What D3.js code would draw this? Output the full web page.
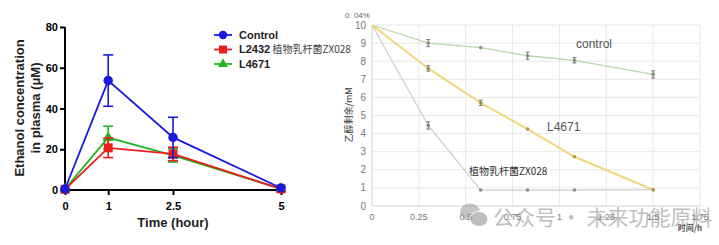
<!DOCTYPE html>
<html>
<head>
<meta charset="utf-8">
<script src="https://cdn.jsdelivr.net/npm/d3@7"></script>
<style>
  body { margin: 0; background: #fff; }
  svg { display: block; }
</style>
</head>
<body>
<svg id="chart" width="719" height="245"></svg>
<script>
// ---- left panel data (Ethanol in plasma) ----
let hours = [0, 1, 2.5, 5]
let controlMean = [0.5, 53.7, 25.8, 1]
let controlErr = [0, 12.6, 9.9, 0]
let l2432Mean = [0.3, 20.7, 17.7, 0.5]
let l2432Err = [0, 4.8, 3.3, 0]
let l4671Mean = [0.5, 25.7, 17, 0.5]
let l4671Err = [0, 5.6, 3.3, 0]
let leftYTicks = [0, 20, 40, 60, 80]
let leftLegend = ['Control', 'L2432 植物乳杆菌ZX028', 'L4671']

// ---- right panel data (ethanol remaining) ----
let times = [0, 0.3, 0.58, 0.83, 1.08, 1.5]
let ctrlRemain = [10, 9.0, 8.75, 8.3, 8.05, 7.27]
let ctrlRemainErr = [0, 0.2, 0, 0.2, 0.15, 0.2]
let l4671Remain = [10, 7.6, 5.7, 4.25, 2.72, 0.9]
let l4671RemainErr = [0, 0.15, 0.15, 0, 0, 0]
let zx028Remain = [10, 4.45, 0.88, 0.88, 0.88, 0.9]
let zx028RemainErr = [0, 0.2, 0, 0, 0, 0]
let rightXTicks = [0, 0.25, 0.5, 0.75, 1, 1.25, 1.5, 1.75]
let rightXLabels = ['0', '0.25', '0.5', '0.75', '1', '1.25', '1.5', '1.75']
let rightYTicks = [0, 1, 2, 3, 4, 5, 6, 7, 8, 9, 10]

let svg = d3.select('#chart')

// ================= LEFT PANEL =================
let left = svg.append('g')
let lx = d3.scaleLinear().domain([0, 5]).range([65, 281])
let ly = d3.scaleLinear().domain([0, 80]).range([190, 27])
let boldFont = 'Liberation Sans, Arial, sans-serif'

// axes
let lxAxis = d3.axisBottom(lx).tickValues(hours).tickFormat(d3.format('')).tickSize(5).tickSizeOuter(0)
let lyAxis = d3.axisLeft(ly).tickValues(leftYTicks).tickSize(5).tickSizeOuter(0)

left.append('g')
  .attr('transform', 'translate(0,190)')
  .call(lxAxis)
  .call(g => g.select('.domain').attr('stroke-width', 2).attr('d', 'M62,0H' + lx(5)))
  .call(g => g.selectAll('line').attr('stroke-width', 2))
  .call(g => g.selectAll('text').attr('font-size', 11).attr('font-weight', 'bold').attr('font-family', boldFont).attr('dy', '1.1em'))

left.append('g')
  .attr('transform', 'translate(65,0)')
  .call(lyAxis)
  .call(g => g.select('.domain').attr('stroke-width', 2).attr('d', 'M0,' + ly(80) + 'V191'))
  .call(g => g.selectAll('line').attr('stroke-width', 2))
  .call(g => g.selectAll('text').attr('font-size', 11).attr('font-weight', 'bold').attr('font-family', boldFont).attr('x', -7))

// axis titles
left.append('text')
  .attr('transform', 'translate(24,108) rotate(-90)')
  .attr('text-anchor', 'middle')
  .attr('font-size', 13).attr('font-weight', 'bold').attr('font-family', boldFont)
  .attr('fill', '#222')
  .text('Ethanol concentration')
left.append('text')
  .attr('transform', 'translate(40,108) rotate(-90)')
  .attr('text-anchor', 'middle')
  .attr('font-size', 13).attr('font-weight', 'bold').attr('font-family', boldFont)
  .attr('fill', '#222')
  .text('in plasma (μM)')
left.append('text')
  .attr('x', 173).attr('y', 227)
  .attr('text-anchor', 'middle')
  .attr('font-size', 13).attr('font-weight', 'bold').attr('font-family', boldFont)
  .attr('fill', '#222')
  .text('Time (hour)')

let leftSeries = [
  { name: leftLegend[0], mean: controlMean, err: controlErr, color: '#1a1adc', shape: d3.symbolCircle, size: 70 },
  { name: leftLegend[1], mean: l2432Mean, err: l2432Err, color: '#ee1c1c', shape: d3.symbolSquare, size: 80 },
  { name: leftLegend[2], mean: l4671Mean, err: l4671Err, color: '#22b422', shape: d3.symbolTriangle, size: 55 }
]

let lline = d3.line().x(d => lx(d.x)).y(d => ly(d.y))

// draw green, red, then blue on top
;[2, 1, 0].forEach(i => {
  let s = leftSeries[i]
  let pts = hours.map((h, j) => ({ x: h, y: s.mean[j], e: s.err[j] }))
  let g = left.append('g')
  g.append('path')
    .datum(pts)
    .attr('d', lline)
    .attr('fill', 'none')
    .attr('stroke', s.color)
    .attr('stroke-width', 1.8)
  pts.filter(d => d.e > 0).forEach(d => {
    g.append('line')
      .attr('x1', lx(d.x)).attr('x2', lx(d.x))
      .attr('y1', ly(d.y - d.e)).attr('y2', ly(d.y + d.e))
      .attr('stroke', s.color).attr('stroke-width', 1.6)
    ;[d.y - d.e, d.y + d.e].forEach(v => {
      g.append('line')
        .attr('x1', lx(d.x) - 5).attr('x2', lx(d.x) + 5)
        .attr('y1', ly(v)).attr('y2', ly(v))
        .attr('stroke', s.color).attr('stroke-width', 1.6)
    })
  })
  g.selectAll('.mk')
    .data(pts)
    .enter()
    .append('path')
    .attr('d', d3.symbol().type(s.shape).size(s.size))
    .attr('transform', d => 'translate(' + lx(d.x) + ',' + ly(d.y) + ')')
    .attr('fill', s.color)
})

// legend
leftSeries.forEach((s, i) => {
  let y = 35 + i * 14.5
  let g = left.append('g').attr('transform', 'translate(223,' + y + ')')
  g.append('line').attr('x1', -9).attr('x2', 9).attr('stroke', s.color).attr('stroke-width', 1.8)
  g.append('path').attr('d', d3.symbol().type(s.shape).size(s.size * 0.8)).attr('fill', s.color)
  let t = g.append('text')
    .attr('x', 16).attr('dy', '0.35em')
    .attr('font-size', 11).attr('font-family', boldFont)
    .attr('fill', '#222')
  let parts = s.name.split(' ')
  t.append('tspan').attr('font-weight', 'bold').text(parts[0])
  if (parts.length > 1) {
    t.append('tspan').attr('font-size', 10).attr('fill', '#444')
      .attr('font-family', 'Noto Sans CJK SC, sans-serif')
      .text(' ' + parts.slice(1).join(' '))
  }
})

// ================= RIGHT PANEL =================
let right = svg.append('g')
let rx = d3.scaleLinear().domain([0, 1.75]).range([372, 700])
let ry = d3.scaleLinear().domain([0, 10]).range([206, 25])
let lightFont = 'Liberation Sans, Arial, sans-serif'

// gridlines
right.append('g')
  .selectAll('line')
  .data(rightXTicks.slice(1))
  .enter()
  .append('line')
  .attr('x1', d => rx(d)).attr('x2', d => rx(d))
  .attr('y1', ry(10)).attr('y2', ry(0))
  .attr('stroke', '#e8e8e8').attr('stroke-width', 1)
right.append('g')
  .selectAll('line')
  .data(rightYTicks.slice(1))
  .enter()
  .append('line')
  .attr('x1', rx(0)).attr('x2', rx(1.75))
  .attr('y1', d => ry(d)).attr('y2', d => ry(d))
  .attr('stroke', '#e8e8e8').attr('stroke-width', 1)

// axis lines
right.append('line')
  .attr('x1', rx(0)).attr('x2', rx(1.75))
  .attr('y1', ry(0)).attr('y2', ry(0))
  .attr('stroke', '#d0d0d0')
right.append('line')
  .attr('x1', rx(0)).attr('x2', rx(0))
  .attr('y1', ry(10)).attr('y2', ry(0))
  .attr('stroke', '#d0d0d0')

// tick labels
right.append('g')
  .selectAll('text')
  .data(rightYTicks)
  .enter()
  .append('text')
  .attr('x', 366).attr('y', d => ry(d))
  .attr('dy', '0.35em')
  .attr('text-anchor', 'end')
  .attr('font-size', 10).attr('font-family', lightFont)
  .attr('fill', '#777')
  .text(d => d)
right.append('g')
  .selectAll('text')
  .data(rightXTicks)
  .enter()
  .append('text')
  .attr('x', d => rx(d)).attr('y', 220)
  .attr('text-anchor', 'middle')
  .attr('font-size', 9).attr('font-family', lightFont)
  .attr('fill', '#777')
  .text((d, i) => rightXLabels[i])

right.append('text')
  .attr('x', 345).attr('y', 18)
  .attr('font-size', 8).attr('font-family', lightFont)
  .attr('fill', '#666')
  .text('0. 04%')

right.append('text')
  .attr('transform', 'translate(352,115) rotate(-90)')
  .attr('text-anchor', 'middle')
  .attr('font-size', 9).attr('font-family', 'Noto Sans CJK SC, sans-serif')
  .attr('fill', '#333')
  .text('乙醇剩余/mM')

right.append('text')
  .attr('x', 702).attr('y', 231)
  .attr('text-anchor', 'end')
  .attr('font-size', 8).attr('font-weight', 'bold').attr('font-family', 'Noto Sans CJK SC, sans-serif')
  .attr('fill', '#555')
  .text('时间/h')

let rightSeries = [
  { vals: zx028Remain, err: zx028RemainErr, color: '#cfcfcf', dot: '#8a8a8a' },
  { vals: l4671Remain, err: l4671RemainErr, color: '#f2d77a', dot: '#b39a3c' },
  { vals: ctrlRemain, err: ctrlRemainErr, color: '#bcd6a8', dot: '#8a9a80' }
]

let rline = d3.line().x(d => rx(d.x)).y(d => ry(d.y))

rightSeries.forEach(s => {
  let pts = times.map((t, j) => ({ x: t, y: s.vals[j], e: s.err[j] }))
  right.append('path')
    .datum(pts)
    .attr('d', rline)
    .attr('fill', 'none')
    .attr('stroke', s.color)
    .attr('stroke-width', s.color === '#f2d77a' ? 2 : 1.3)
  right.append('g')
    .selectAll('circle')
    .data(pts.slice(1))
    .enter()
    .append('circle')
    .attr('cx', d => rx(d.x)).attr('cy', d => ry(d.y))
    .attr('r', 1.8)
    .attr('fill', s.dot)
  pts.filter(d => d.e > 0).forEach(d => {
    let g = right.append('g').attr('stroke', '#7a7a7a').attr('stroke-width', 1)
    g.append('line').attr('x1', rx(d.x)).attr('x2', rx(d.x)).attr('y1', ry(d.y - d.e)).attr('y2', ry(d.y + d.e))
    ;[d.y - d.e, d.y + d.e].forEach(v => {
      g.append('line').attr('x1', rx(d.x) - 2).attr('x2', rx(d.x) + 2).attr('y1', ry(v)).attr('y2', ry(v))
    })
  })
})

// series annotations
right.append('text')
  .attr('x', 576).attr('y', 48)
  .attr('font-size', 12).attr('font-family', lightFont)
  .attr('fill', '#555')
  .text('control')
right.append('text')
  .attr('x', 547).attr('y', 131)
  .attr('font-size', 12).attr('font-family', lightFont)
  .attr('fill', '#555')
  .text('L4671')
right.append('text')
  .attr('x', 469).attr('y', 175)
  .attr('font-size', 10).attr('font-family', 'Noto Sans CJK SC, sans-serif')
  .attr('fill', '#333')
  .text('植物乳杆菌ZX028')

// watermark (overlaps the x tick labels, as in the source image)
let wm = right.append('g').attr('opacity', 0.55)
wm.append('ellipse').attr('cx', 470).attr('cy', 212).attr('rx', 10).attr('ry', 8.5).attr('fill', '#999')
wm.append('ellipse').attr('cx', 479).attr('cy', 219).attr('rx', 9).attr('ry', 7.5).attr('fill', '#888').attr('stroke', '#fff').attr('stroke-width', 1)
wm.append('text')
  .attr('x', 493).attr('y', 225)
  .attr('font-size', 21).attr('font-family', 'Noto Sans CJK SC, sans-serif')
  .attr('fill', '#8a8a8a')
  .text('公众号 · 未来功能原料')
</script>
</body>
</html>
